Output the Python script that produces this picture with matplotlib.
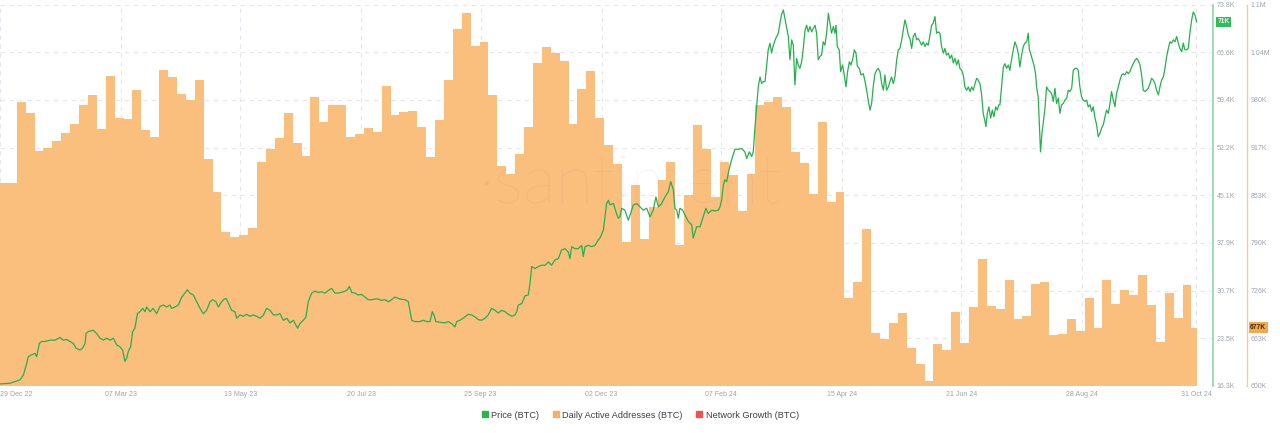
import matplotlib
matplotlib.use('Agg')
import matplotlib.pyplot as plt
import matplotlib.dates as mdates
from matplotlib.lines import Line2D
import pandas as pd
import numpy as np

plt.rcParams['font.family'] = ['Liberation Sans', 'DejaVu Sans']

# ---------------- data ----------------
start_date = '2022-12-29'
bar_start = '2022-12-28 10:00'

# Daily Active Addresses (BTC), thousands, one bar per 5 days
dau_k = [
    869.2, 869.2, 976.8, 962.2, 912.1, 916.5, 925.8, 936.5, 948.0, 972.8,
    987.0, 941.8, 1012.2, 956.0, 954.6, 993.6, 940.0, 930.3, 1019.3, 1010.0,
    988.3, 979.9, 1006.9, 901.5, 857.2, 804.9, 797.4, 800.9, 809.4, 897.1,
    914.8, 929.0, 963.0, 923.2, 905.9, 983.9, 951.1, 972.8, 972.8, 931.2,
    935.1, 942.2, 937.4, 998.5, 960.0, 964.0, 965.3, 944.4, 904.6, 952.9,
    1006.5, 1074.2, 1095.0, 1052.1, 1056.5, 987.0, 892.6, 881.1, 908.6, 943.6,
    1028.6, 1049.9, 1041.9, 1031.7, 948.0, 994.0, 1018.4, 956.4, 920.1, 894.8,
    791.6, 867.4, 794.7, 838.2, 873.1, 897.1, 787.2, 853.6, 946.2, 914.8,
    851.4, 897.9, 880.2, 832.8, 881.1, 973.2, 977.7, 984.3, 970.6, 911.2,
    895.7, 854.5, 951.1, 843.9, 857.6, 717.2, 738.5, 808.5, 669.9, 661.9,
    683.1, 696.4, 649.9, 628.7, 606.5, 655.7, 647.7, 698.6, 657.5, 705.3,
    768.2, 706.2, 701.7, 740.7, 688.9, 693.3, 735.0, 738.5, 667.6, 669.0,
    688.5, 673.0, 717.2, 676.5, 740.7, 709.3, 727.0, 720.3, 747.4, 707.5,
    658.8, 723.0, 690.7, 733.6, 677.4,
]

# Price (BTC), days after start_date and price in thousands USD
price_days = [
    0.0, 5.6, 11.2, 13.1, 15.0, 15.9, 17.8, 19.7, 20.6, 22.1, 23.4, 25.3, 28.1, 30.9, 33.7, 35.6,
    37.5, 39.3, 41.2, 42.7, 44.9, 46.4, 47.8, 48.3, 49.6, 52.4, 54.3, 56.2, 58.1, 59.9, 61.8, 63.7,
    65.5, 67.4, 68.9, 70.2, 71.2, 72.1, 73.4, 74.5, 75.8, 77.2, 78.7, 80.2, 81.5, 82.4, 84.3, 86.1,
    88.0, 89.9, 91.8, 93.6, 95.5, 96.4, 98.3, 100.2, 102.1, 103.9, 105.2, 106.7, 108.6, 110.5, 112.4,
    114.2, 116.1, 118.0, 119.5, 121.3, 122.7, 124.0, 125.5, 127.0, 128.3, 130.1, 132.0, 133.0, 134.8,
    136.7, 138.6, 140.5, 142.3, 144.2, 146.1, 148.0, 149.8, 151.7, 153.6, 155.4, 157.3, 159.2, 161.1,
    162.9, 164.8, 167.2, 168.5, 170.4, 171.9, 173.2, 175.1, 177.0, 178.8, 180.7, 182.6, 184.5, 186.3,
    188.2, 190.1, 192.9, 194.8, 196.3, 197.6, 199.4, 201.3, 203.2, 205.1, 206.9, 208.8, 210.7, 212.5,
    214.4, 216.3, 218.2, 220.0, 221.9, 223.8,
    224.7, 227.5, 229.4, 231.3, 233.1, 235.9, 237.8, 239.7, 241.6, 242.9, 243.8, 244.9, 247.2, 250.0,
    251.9, 253.7, 255.6, 256.6, 258.4, 261.2, 263.1, 265.0, 266.9, 268.7, 270.6, 272.5, 274.3, 276.2,
    278.1, 280.0, 281.8, 283.7, 285.6, 287.5, 289.3, 290.3, 291.2, 293.1, 295.0, 296.8, 297.8, 298.7,
    300.6, 302.4, 304.3, 306.2, 308.1, 309.9, 311.8, 313.7, 315.5, 317.4, 319.3, 320.2, 321.2, 323.0,
    324.9, 326.8, 327.7, 328.7, 330.5, 332.4, 334.3, 336.1,
    337.1, 339.0, 339.9, 340.8, 341.8, 342.7, 344.6, 346.4, 347.4, 348.3, 349.3, 351.1, 353.0, 354.3,
    355.8, 357.7, 359.6, 361.4, 363.3, 365.2, 367.0, 368.5, 369.9, 371.7, 373.6, 375.5, 376.8, 378.3,
    379.2, 380.2, 381.1, 382.0, 383.5, 384.8, 386.7, 388.6, 389.5, 391.4, 393.3, 395.1, 396.6, 397.9,
    399.8, 401.7, 403.6, 404.5, 405.4, 406.4, 407.3, 408.2, 409.2, 410.5, 411.6, 412.9, 414.8, 416.7,
    418.5, 419.5, 421.0, 422.3, 423.2, 424.2, 425.1, 426.0, 427.0, 427.9, 428.8, 429.8, 430.7, 431.6,
    432.6, 433.5, 434.5, 435.8, 437.3, 438.2, 439.1, 440.1, 441.0, 442.0, 442.9, 443.8, 444.8, 445.7,
    446.6, 447.6, 448.5,
    449.4, 450.4, 451.3, 452.3, 453.2, 454.1, 455.1, 456.0, 456.9, 457.9, 458.8, 459.7, 460.7, 461.6,
    462.5, 463.5, 464.4, 465.4, 466.3, 467.2, 468.2, 469.1, 469.7, 470.4, 471.5, 472.3, 473.4, 474.2,
    475.3, 476.2, 477.2, 478.1, 479.0, 480.0, 480.9, 481.7, 482.8, 483.7, 485.0, 485.9, 486.9, 487.8,
    488.8, 489.7, 490.6, 491.6, 492.5, 493.4, 494.4, 495.3, 496.3, 497.2, 498.1, 499.1, 500.0, 500.9,
    501.9, 502.8, 503.8, 504.7, 505.6, 506.6, 507.5, 508.4, 509.4, 510.3, 511.2, 512.2, 513.1, 514.1,
    515.0, 515.9, 516.9, 517.8, 518.7, 519.7, 520.6, 521.5, 522.5, 523.4, 524.3, 525.3, 526.2, 527.2,
    528.1, 529.0, 530.0, 530.9, 531.8, 532.8, 533.7, 534.7, 535.6, 536.5, 537.5, 538.4, 539.3, 540.3,
    541.2, 542.1, 543.1, 544.0, 545.0, 545.9, 546.8, 547.8, 548.7, 549.6, 550.6, 551.5, 552.4, 553.4,
    553.9, 554.7, 555.6, 556.6, 557.5, 558.4, 559.4, 560.3, 561.2,
    561.8, 562.7, 563.7, 564.6, 565.5, 566.5, 567.4, 568.4, 569.3, 570.2, 571.2, 572.1, 573.0, 574.0,
    574.9, 575.8, 576.8, 577.7, 578.3, 579.0, 580.0, 580.9, 581.8, 582.4, 583.3, 583.9, 584.6, 585.4,
    586.1, 587.1, 588.0, 589.0, 589.9, 590.8, 591.8, 592.7, 593.6, 594.6, 595.5, 596.4, 597.4, 598.3,
    599.3, 600.2, 601.1, 602.1, 603.0, 603.9, 604.9, 605.8, 606.7, 607.7, 608.6, 609.6, 610.5, 611.4,
    612.4, 613.3, 614.2, 615.2, 616.1, 617.0, 618.0, 618.9, 619.9, 620.8, 621.7, 622.7, 623.6, 624.5,
    625.5, 626.4, 627.3, 628.3, 629.2, 630.2, 631.1, 632.0, 633.0, 633.9, 634.8, 635.8, 636.7, 637.6,
    638.6, 639.5, 640.5, 641.4, 642.3, 643.3, 644.2, 645.1, 646.1, 647.0, 648.0, 648.9, 649.8, 650.8,
    651.7, 652.6, 653.6, 654.5, 655.4, 656.4, 657.3, 658.2, 659.2, 660.1, 661.1, 662.0, 662.9, 663.9,
    664.8, 665.7, 666.7, 667.6, 668.5, 669.5, 670.4, 671.4, 672.3,
]
price_k = [
    16.6, 16.7, 17.2, 17.9, 19.7, 20.7, 21.0, 21.2, 20.7, 22.7, 23.0, 23.0, 23.2, 23.2, 23.6, 23.2,
    23.3, 23.0, 22.7, 22.0, 21.7, 22.0, 22.7, 24.2, 24.5, 24.7, 24.2, 23.5, 23.2, 23.5, 23.2, 23.5,
    22.5, 22.2, 21.7, 20.0, 20.5, 21.5, 22.2, 24.5, 25.0, 27.2, 27.5, 28.0, 27.5, 28.2, 27.5, 28.0,
    27.2, 28.3, 28.5, 28.2, 28.5, 28.0, 28.2, 28.5, 29.7, 30.3, 30.8, 30.3, 30.0, 29.0, 28.0,
    27.2, 27.7, 29.0, 29.3, 29.0, 28.2, 28.8, 29.3, 29.5, 28.8, 27.7, 27.5, 26.5, 27.0,
    26.8, 27.1, 26.8, 27.0, 26.8, 26.5, 27.0, 28.0, 27.7, 27.0, 27.0, 27.2, 26.2, 26.5,
    25.8, 26.2, 25.0, 25.7, 26.2, 26.7, 29.0, 30.3, 30.6, 30.4, 30.5, 30.3, 30.7, 31.0,
    30.3, 30.3, 30.5, 30.7, 31.3, 30.4, 30.3, 30.0, 30.1, 29.7, 29.3, 29.3, 29.4, 29.4,
    29.2, 29.3, 29.0, 29.3, 29.7, 29.5,
    29.4, 29.3, 29.0, 26.2, 26.0, 26.0, 26.2, 26.0, 26.0, 27.5, 27.0, 26.0, 25.9, 25.8,
    26.0, 25.7, 25.2, 26.0, 26.2, 26.7, 27.1, 27.0, 26.7, 26.3, 26.2, 26.5, 27.0, 28.0,
    27.7, 27.3, 27.7, 27.5, 27.1, 26.8, 27.0, 27.5, 28.5, 28.7, 29.9, 30.0, 31.8, 34.3,
    34.0, 34.3, 34.5, 34.5, 35.0, 34.5, 35.3, 35.5, 36.8, 37.0, 36.5, 35.5, 37.3, 37.0,
    37.0, 37.5, 35.8, 37.3, 37.5, 37.3, 37.5, 38.3,
    38.6, 39.8, 41.8, 43.8, 44.3, 43.6, 43.8, 42.3, 41.6, 41.8, 43.1, 42.8, 41.3, 42.3,
    43.6, 43.8, 43.3, 42.8, 43.1, 41.8, 42.8, 44.8, 43.3, 43.8, 44.8, 45.6, 47.1, 45.9,
    43.1, 42.8, 41.6, 43.1, 42.8, 42.1, 41.1, 40.6, 38.6, 40.3, 40.3, 41.8, 43.1, 42.3,
    42.8, 42.7, 42.8, 43.3, 44.3, 46.6, 47.4, 47.1, 48.4, 49.9, 50.9, 52.0, 52.0, 52.1,
    51.6, 50.6, 51.6, 50.9, 51.6, 55.4, 58.4, 61.4, 62.9, 61.9, 62.2, 62.2, 64.5, 67.0,
    68.0, 66.5, 67.7, 68.7, 69.5, 71.0, 72.3, 73.0, 71.7, 70.2, 69.0, 65.5, 68.5, 67.7,
    61.7, 65.7, 64.7,
    64.2, 65.2, 67.2, 70.0, 70.7, 69.7, 70.5, 69.7, 70.2, 70.7, 69.5, 65.5, 66.0, 66.2,
    68.2, 67.7, 69.5, 72.5, 71.0, 69.5, 70.5, 69.5, 70.7, 67.5, 67.0, 63.7, 64.7, 63.4,
    61.4, 63.7, 65.2, 64.7, 65.5, 67.0, 66.5, 64.5, 64.2, 63.2, 63.4, 62.4, 60.9, 59.4,
    57.9, 58.9, 61.4, 63.4, 63.9, 64.2, 63.7, 62.0, 60.9, 63.2, 60.9, 61.4, 62.2, 62.9,
    61.9, 62.9, 65.5, 67.0, 67.2, 68.5, 70.0, 71.5, 70.5, 69.2, 68.7, 67.2, 69.0, 69.5,
    68.5, 68.7, 68.2, 67.7, 68.2, 67.5, 68.0, 67.7, 69.2, 70.7, 71.0, 72.0, 69.5, 69.7,
    69.5, 67.5, 66.5, 67.2, 66.2, 66.5, 65.7, 66.2, 65.0, 65.7, 64.7, 65.5, 64.2, 63.9,
    63.2, 61.4, 60.9, 61.4, 60.7, 61.4, 60.9, 61.9, 62.7, 62.4, 61.9, 60.2, 57.4, 56.2,
    55.4, 57.4, 58.4, 56.7, 57.9, 56.9, 58.4, 57.9, 58.7,
    58.7, 61.4, 64.4, 64.9, 64.2, 64.7, 63.9, 65.7, 67.0, 68.2, 67.5, 66.5, 64.4, 66.2,
    67.5, 68.0, 68.2, 69.5, 67.0, 66.5, 65.5, 64.7, 63.4, 61.4, 59.9, 55.9, 51.6, 54.4,
    55.9, 58.2, 61.4, 60.9, 60.7, 60.4, 59.2, 61.2, 58.9, 59.7, 57.4, 58.7, 58.9, 59.4,
    59.7, 60.9, 60.7, 61.2, 63.9, 64.2, 64.2, 63.9, 61.4, 59.9, 59.4, 59.2, 59.4, 58.4,
    58.7, 57.7, 58.4, 56.7, 55.7, 53.9, 54.4, 55.2, 55.7, 56.9, 57.9, 57.4, 58.9, 60.7,
    59.4, 58.4, 60.4, 61.4, 62.4, 63.2, 63.4, 63.2, 63.7, 63.4, 63.7, 64.4, 64.9, 65.4,
    65.7, 65.4, 64.7, 63.2, 60.9, 60.7, 60.9, 61.2, 61.9, 62.7, 62.4, 61.9, 60.9, 60.2,
    61.4, 62.4, 62.9, 64.2, 65.9, 67.2, 68.2, 68.0, 68.5, 68.2, 69.0, 68.0, 67.2, 66.7,
    68.0, 67.0, 67.0, 67.2, 69.5, 71.5, 72.7, 72.2, 71.2,
]

x_tick_dates = ['2022-12-29', '2023-03-07', '2023-05-13', '2023-07-20', '2023-09-25',
                '2023-12-02', '2024-02-07', '2024-04-15', '2024-06-21', '2024-08-28',
                '2024-10-31']
x_tick_labels = ['29 Dec 22', '07 Mar 23', '13 May 23', '20 Jul 23', '25 Sep 23',
                 '02 Dec 23', '07 Feb 24', '15 Apr 24', '21 Jun 24', '28 Aug 24',
                 '31 Oct 24']
price_tick_labels = ['16.3K', '23.5K', '30.7K', '37.9K', '45.1K', '52.2K', '59.4K',
                     '66.6K', '73.8K']
dau_tick_labels = ['600K', '663K', '726K', '790K', '853K', '917K', '980K', '1.04M', '1.1M']
price_range_k = (16.3, 73.8)
dau_range_k = (600.0, 1106.5)
legend_labels = ['Price (BTC)', 'Daily Active Addresses (BTC)', 'Network Growth (BTC)']

# ---------------- style ----------------
BAR_C = '#fabe7d'
LINE_C = '#27b04d'
GRID_C = '#e4e7ee'
TICK_C = '#9ea4ae'
GREEN_SPINE = '#8fd6a3'
ORANGE_SPINE = '#f5c99c'

W, H = 1280, 433
fig = plt.figure(figsize=(W / 100, H / 100), dpi=100)
ax = fig.add_axes([0.0, 1 - 385.9 / H, 1213 / W, (385.9 - 4.7) / H])
ax2 = ax.twinx()

start = pd.Timestamp(start_date)
bar_dates = pd.date_range(pd.Timestamp(bar_start), periods=len(dau_k), freq='5D')
bar_x = mdates.date2num(bar_dates.to_pydatetime())
widths = np.full(len(dau_k), 5.0)
widths[-1] = 3.0
ax.bar(bar_x, np.array(dau_k) * 1000, width=widths, align='edge', color=BAR_C,
       linewidth=0, zorder=2)

px = mdates.date2num((start + pd.to_timedelta(price_days, unit='D')).to_pydatetime())
ax2.plot(px, np.array(price_k) * 1000, color=LINE_C, lw=0.9, zorder=3)

# limits
x0 = mdates.date2num(start.to_pydatetime())
ax.set_xlim(x0, x0 + 681.5)
ax.set_ylim(dau_range_k[0] * 1000, dau_range_k[1] * 1000)
ax2.set_ylim(price_range_k[0] * 1000, price_range_k[1] * 1000)

# ticks
xt = mdates.date2num(pd.to_datetime(x_tick_dates).to_pydatetime())
ax.set_xticks(xt)
ax.set_xticklabels(x_tick_labels)
xlabels = ax.get_xticklabels()
xlabels[0].set_ha('left')
ax.tick_params(axis='x', length=0, pad=3.5, labelsize=5, labelcolor=TICK_C)

ax.set_yticks(np.linspace(dau_range_k[0] * 1000, dau_range_k[1] * 1000, len(dau_tick_labels)))
ax.set_yticklabels(dau_tick_labels)
ax.yaxis.tick_right()
ax.tick_params(axis='y', length=0, pad=3.0, labelsize=5, labelcolor=TICK_C)

ax2.set_yticks(np.linspace(price_range_k[0] * 1000, price_range_k[1] * 1000, len(price_tick_labels)))
ax2.set_yticklabels(price_tick_labels)
ax2.tick_params(axis='y', length=0, pad=2.5, labelsize=5, labelcolor=TICK_C)

# grid
ax.set_axisbelow(True)
ax.grid(True, color=GRID_C, lw=0.8, linestyle=(0, (4, 4)), zorder=0)

# spines
for s in ['top', 'left', 'bottom']:
    ax.spines[s].set_visible(False)
    ax2.spines[s].set_visible(False)
ax.spines['right'].set_position(('outward', 33.7 * 0.72))
ax.spines['right'].set_color(ORANGE_SPINE)
ax.spines['right'].set_linewidth(1.0)
ax2.spines['right'].set_color(GREEN_SPINE)
ax2.spines['right'].set_linewidth(1.2)

# last-value badges
ax2.annotate(f"{round(price_k[-1])}K", xy=(1.0, price_k[-1] * 1000),
             xycoords=('axes fraction', 'data'), xytext=(3.0, 0), textcoords='offset points',
             ha='left', va='center', fontsize=4.8, color='white', fontweight='bold',
             bbox=dict(boxstyle='square,pad=0.25', fc='#2fbd55', ec='none'), annotation_clip=False)
ax.annotate(f"{round(dau_k[-1])}K", xy=(1.0, dau_k[-1] * 1000),
            xycoords=('axes fraction', 'data'), xytext=(33.7 * 0.72 + 2.5, 0),
            textcoords='offset points', ha='left', va='center', fontsize=4.8,
            color='#3a2a12', fontweight='bold',
            bbox=dict(boxstyle='square,pad=0.25', fc='#f6a84c', ec='none'),
            annotation_clip=False)

# watermark
fig.text(0.492, 0.575, '·santiment', fontsize=50, color='#4a5a9a', alpha=0.07,
         ha='center', va='center', family='Lato', fontweight='light', zorder=10)

# legend
handles = [Line2D([], [], marker='s', ls='none', markersize=4.3, color=c)
           for c in ['#2bb34f', '#f5b063', '#ee5253']]
fig.legend(handles, legend_labels, loc='center', bbox_to_anchor=(0.5, 1 - 415 / H),
           ncol=3, frameon=False, fontsize=6.6, handlelength=0.8, handletextpad=0.3,
           columnspacing=1.4, labelcolor='#3b3f46')

fig.savefig('out.png', dpi=100)
